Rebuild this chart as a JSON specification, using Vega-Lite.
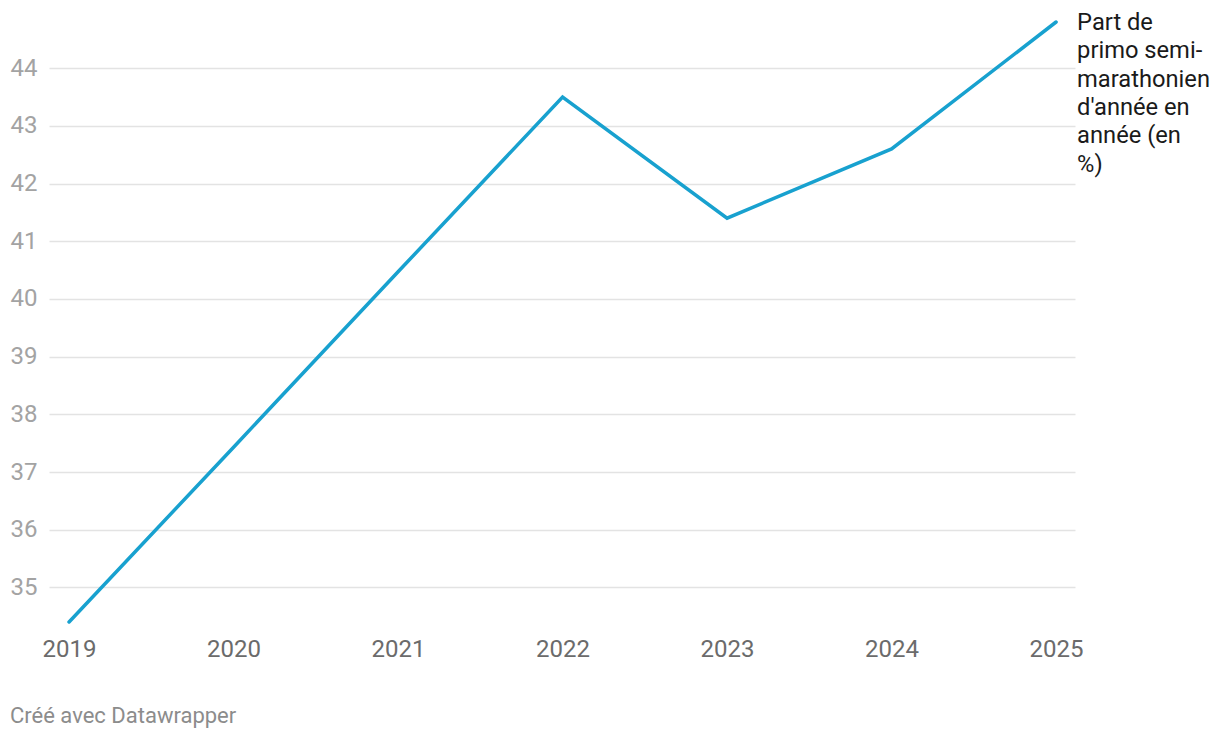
{
  "$schema": "https://vega.github.io/schema/vega-lite/v6.json",
  "width": 1026,
  "height": 600,
  "autosize": "none",
  "padding": {"left": 49, "top": 22, "right": 145, "bottom": 116},
  "background": "white",
  "config": {
    "view": {"stroke": null},
    "font": "Roboto",
    "title": {"font": "Roboto"}
  },
  "title": {
    "text": "Créé avec Datawrapper",
    "orient": "bottom",
    "anchor": "start",
    "frame": "group",
    "fontSize": 22,
    "fontWeight": "normal",
    "color": "#8c8c8c",
    "dx": -39,
    "offset": 45
  },
  "data": {
    "values": [
      {"year": 2019, "value": 34.4, "series": "Part de\nprimo semi-\nmarathonien\nd'année en\nannée (en\n%)"},
      {"year": 2020, "value": 37.43, "series": "Part de\nprimo semi-\nmarathonien\nd'année en\nannée (en\n%)"},
      {"year": 2021, "value": 40.47, "series": "Part de\nprimo semi-\nmarathonien\nd'année en\nannée (en\n%)"},
      {"year": 2022, "value": 43.5, "series": "Part de\nprimo semi-\nmarathonien\nd'année en\nannée (en\n%)"},
      {"year": 2023, "value": 41.4, "series": "Part de\nprimo semi-\nmarathonien\nd'année en\nannée (en\n%)"},
      {"year": 2024, "value": 42.6, "series": "Part de\nprimo semi-\nmarathonien\nd'année en\nannée (en\n%)"},
      {"year": 2025, "value": 44.8, "series": "Part de\nprimo semi-\nmarathonien\nd'année en\nannée (en\n%)"}
    ]
  },
  "encoding": {
    "x": {
      "field": "year",
      "type": "quantitative",
      "scale": {"domain": [2018.878, 2025.115], "nice": false, "zero": false},
      "axis": {
        "title": null,
        "values": [2019, 2020, 2021, 2022, 2023, 2024, 2025],
        "format": "d",
        "grid": false,
        "domain": false,
        "ticks": false,
        "labelFontSize": 24,
        "labelColor": "#6b6b6b",
        "labelPadding": 15,
        "labelFont": "Roboto"
      }
    },
    "y": {
      "field": "value",
      "type": "quantitative",
      "scale": {"domain": [34.4, 44.8], "nice": false, "zero": false},
      "axis": {
        "title": null,
        "values": [35, 36, 37, 38, 39, 40, 41, 42, 43, 44],
        "grid": true,
        "gridColor": "#e3e3e3",
        "gridWidth": 1.5,
        "domain": false,
        "ticks": false,
        "labelFontSize": 24,
        "labelColor": "#a3a3a3",
        "labelPadding": 12,
        "labelFont": "Roboto"
      }
    }
  },
  "layer": [
    {
      "mark": {"type": "line", "color": "#18a1cf", "strokeWidth": 3.5, "strokeCap": "round", "strokeJoin": "miter"}
    },
    {
      "transform": [{"filter": "datum.year == 2025"}],
      "mark": {
        "type": "text",
        "align": "left",
        "baseline": "alphabetic",
        "dx": 21,
        "dy": 8,
        "fontSize": 23.7,
        "lineHeight": 28.3,
        "lineBreak": "\n",
        "color": "#1a1a1a",
        "font": "Roboto"
      },
      "encoding": {"text": {"field": "series"}}
    }
  ]
}
